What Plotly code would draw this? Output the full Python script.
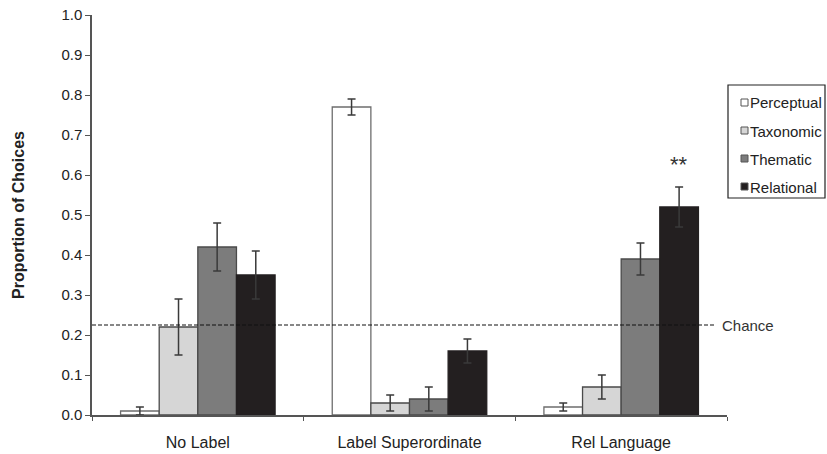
import plotly.graph_objects as go

conditions = ["No Label", "Label Superordinate", "Rel Language"]
choice_types = ["Perceptual", "Taxonomic", "Thematic", "Relational"]
proportions = {
    "Perceptual": [0.01, 0.77, 0.02],
    "Taxonomic": [0.22, 0.03, 0.07],
    "Thematic": [0.42, 0.04, 0.39],
    "Relational": [0.35, 0.16, 0.52],
}
std_errors = {
    "Perceptual": [0.01, 0.02, 0.01],
    "Taxonomic": [0.07, 0.02, 0.03],
    "Thematic": [0.06, 0.03, 0.04],
    "Relational": [0.06, 0.03, 0.05],
}
chance_level = 0.225

fill_colors = {
    "Perceptual": "#ffffff",
    "Taxonomic": "#d6d6d6",
    "Thematic": "#7c7c7c",
    "Relational": "#231f20",
}
line_colors = {
    "Perceptual": "#6e6e6e",
    "Taxonomic": "#4a4a4a",
    "Thematic": "#4a4a4a",
    "Relational": "#231f20",
}

FONT = "Liberation Sans, Arial, sans-serif"
W, H = 827, 454
M_L, M_R, M_T, M_B = 92, 100, 15, 39
PLOT_W = W - M_L - M_R
PLOT_H = H - M_T - M_B


def px_to_paper(px, py):
    """Convert a pixel position in the figure to paper coordinates."""
    return (px - M_L) / PLOT_W, (H - M_B - py) / PLOT_H


fig = go.Figure()
for name in choice_types:
    fig.add_trace(go.Bar(
        name=name,
        x=conditions,
        y=proportions[name],
        showlegend=False,
        marker=dict(color=fill_colors[name],
                    line=dict(color=line_colors[name], width=1.3)),
        error_y=dict(type="data", array=std_errors[name], visible=True,
                     color="#3a3a3a", thickness=1.5, width=4),
    ))

# Chance reference line
fig.add_shape(type="line", xref="paper", yref="y",
              x0=0, x1=px_to_paper(716, 0)[0], y0=chance_level, y1=chance_level,
              line=dict(color="#111111", width=1.2, dash="4px,2px"))
fig.add_annotation(xref="paper", yref="y", x=px_to_paper(720, 0)[0], y=chance_level,
                   text="Chance", showarrow=False, xanchor="left",
                   font=dict(family=FONT, size=15, color="#333333"))

# Significance marker above the Relational bar in the Rel Language condition
n_types = len(choice_types)
group_width = 0.73
bar_w = group_width / n_types
rel_offset = (choice_types.index("Relational") - (n_types - 1) / 2) * bar_w
rel_idx = conditions.index("Rel Language")
rel_top = proportions["Relational"][rel_idx] + std_errors["Relational"][rel_idx]
fig.add_annotation(xref="x", yref="y", x=rel_idx + rel_offset, y=rel_top + 0.02,
                   text="**", showarrow=False, yanchor="bottom",
                   font=dict(family=FONT, size=22, color="#333333"))

# Boxed key to the right of the plot
bx0, by0 = px_to_paper(728, 85)
bx1, by1 = px_to_paper(825, 198)
fig.add_shape(type="rect", xref="paper", yref="paper",
              x0=bx0, x1=bx1, y0=by1, y1=by0,
              line=dict(color="#222222", width=1.2), fillcolor="white")
key_rows = [103, 131, 159, 187]
for name, row_y in zip(choice_types, key_rows):
    sx0, sy0 = px_to_paper(741, row_y - 4)
    sx1, sy1 = px_to_paper(748, row_y + 3)
    fig.add_shape(type="rect", xref="paper", yref="paper",
                  x0=sx0, x1=sx1, y0=sy1, y1=sy0,
                  line=dict(color="#555555", width=1),
                  fillcolor=fill_colors[name])
    tx, ty = px_to_paper(749, row_y)
    fig.add_annotation(xref="paper", yref="paper", x=tx, y=ty, text=name,
                       showarrow=False, xanchor="left", yanchor="middle",
                       xshift=-1,
                       font=dict(family=FONT, size=15, color="#222222"))

fig.update_layout(
    width=W, height=H,
    margin=dict(l=M_L, r=M_R, t=M_T, b=M_B, autoexpand=False),
    paper_bgcolor="white", plot_bgcolor="white",
    barmode="group", bargap=1 - group_width, bargroupgap=0,
    font=dict(family=FONT, size=15, color="#333333"),
    showlegend=False,
)
fig.update_xaxes(
    type="category", tickson="boundaries", ticks="outside", ticklen=4,
    tickcolor="#555555", showline=True, linecolor="#555555", linewidth=1.5,
    showgrid=False, ticklabelstandoff=12, automargin=False,
    tickfont=dict(family=FONT, size=16, color="#222222"),
)
fig.update_yaxes(
    range=[0, 1.0], dtick=0.1, tickformat=".1f", ticks="outside", ticklen=5,
    tickcolor="#555555", showline=True, linecolor="#555555", linewidth=1.5,
    showgrid=False, zeroline=False, automargin=False,
    tickfont=dict(family=FONT, size=15, color="#222222"),
    title=dict(text="<b>Proportion of Choices</b>", standoff=33,
               font=dict(family=FONT, size=16, color="#222222")),
)

fig.write_html("out.html")
